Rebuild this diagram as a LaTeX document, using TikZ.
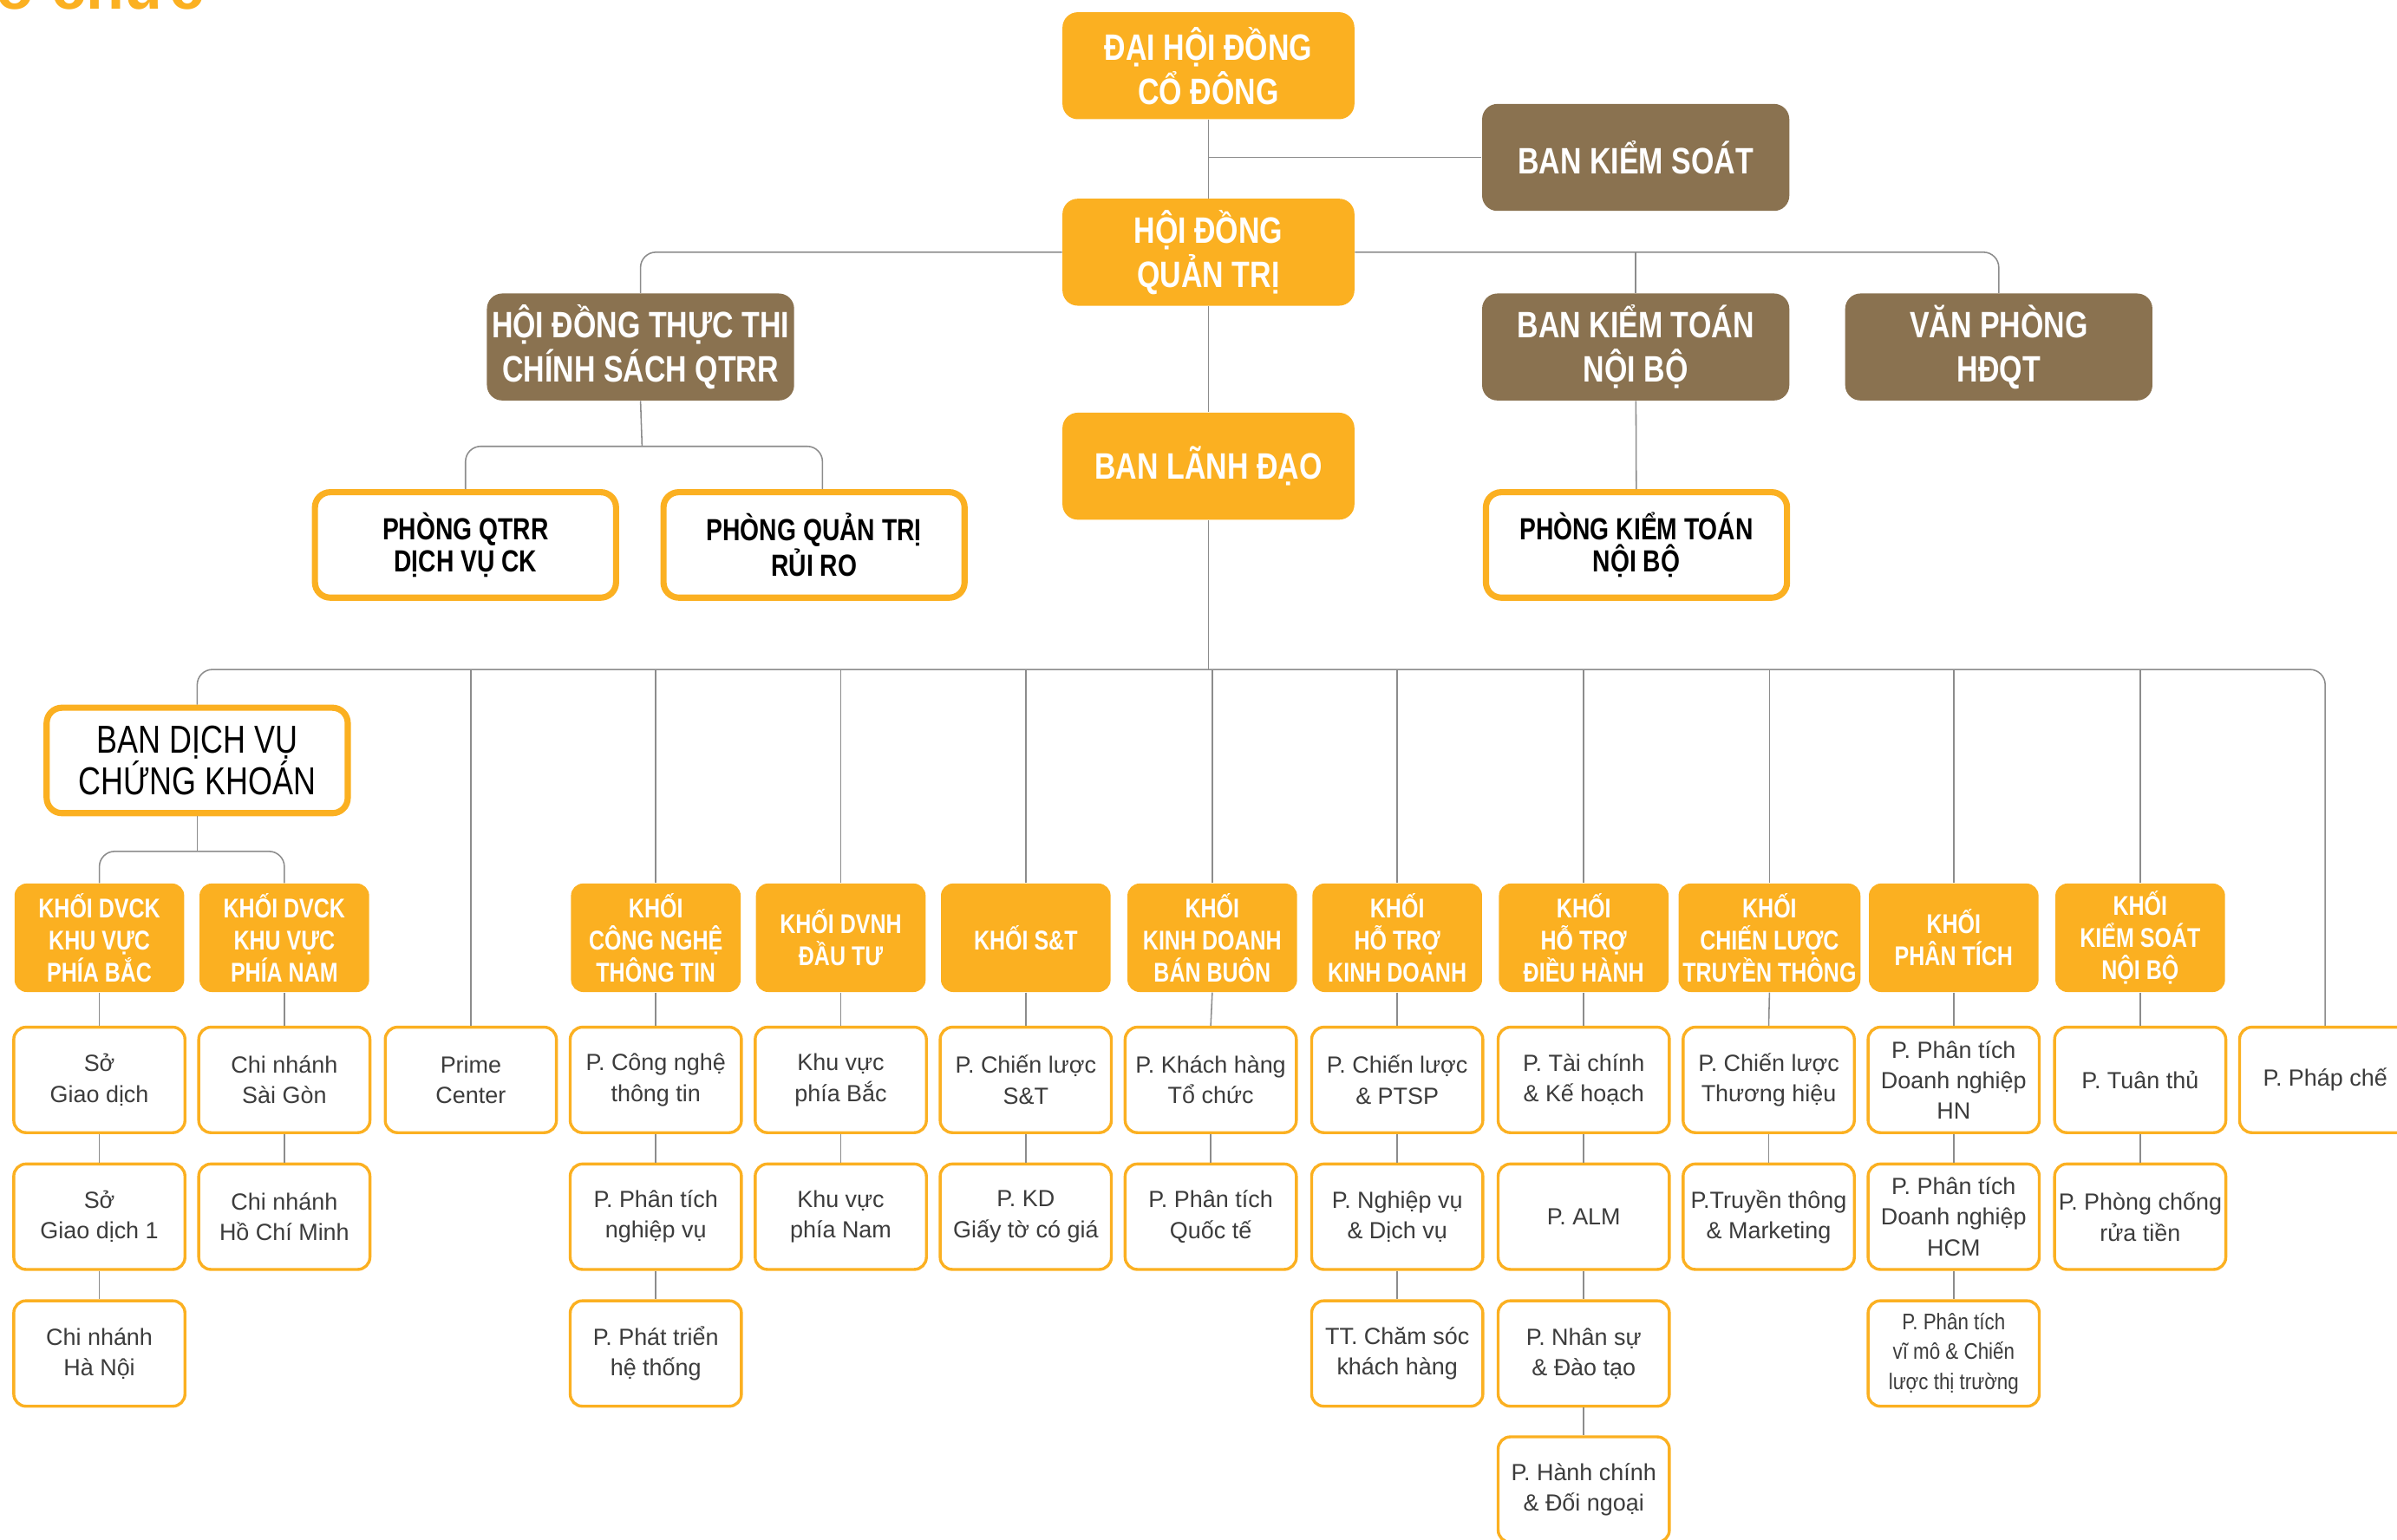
\documentclass[tikz,border=0pt]{standalone}
\usepackage{fontspec}
\setmainfont{Liberation Sans}
\newfontfamily\headfont[FakeStretch=0.8]{Liberation Sans}
\newfontfamily\narrowfont[FakeStretch=0.86]{Liberation Sans}
\usepackage{tikz}
\definecolor{orgOrange}{RGB}{251, 176, 33}
\definecolor{orgBrown}{RGB}{138, 114, 80}
\definecolor{orgLine}{RGB}{140, 140, 140}
\definecolor{orgText}{RGB}{60, 60, 60}

\begin{document}
\begin{tikzpicture}[x=0.02cm, y=-0.02cm,
  link/.style={draw=orgLine, line width=0.5pt},
  topbox/.style={fill=orgOrange, rounded corners=0.2cm, minimum width=3.82cm, minimum height=1.4cm,
    text=white, align=center, inner sep=1pt, font=\headfont\bfseries\fontsize{13.7}{16.5}\selectfont},
  brownbox/.style={topbox, fill=orgBrown, minimum width=4.02cm},
  ringbox/.style={draw=orgOrange, line width=2.3pt, fill=white, rounded corners=0.2cm,
    minimum width=3.94cm, minimum height=1.38cm, align=center, text=black, inner sep=1pt,
    font=\headfont\bfseries\fontsize{11.4}{12}\selectfont},
  khoibox/.style={fill=orgOrange, rounded corners=0.16cm, minimum width=2.22cm, minimum height=1.42cm,
    text=white, align=center, inner sep=1pt, font=\headfont\bfseries\fontsize{10.1}{12}\selectfont},
  leafbox/.style={draw=orgOrange, line width=1.1pt, fill=white, rounded corners=0.16cm,
    minimum width=2.24cm, minimum height=1.38cm, align=center, text=orgText, inner sep=1pt,
    font=\fontsize{8.7}{11.4}\selectfont}]
\useasboundingbox (0,0) rectangle (1568,1007);

% Title, cut off by the top edge
\node[anchor=base east, inner sep=0, text=orgOrange, font=\bfseries\fontsize{23.2}{24}\selectfont] (title) at (134,6) {tổ chức};

% Boards
\node[topbox] (dhdcd) at (790.5,43) {ĐẠI HỘI ĐỒNG\\CỔ ĐÔNG};
\node[brownbox] (bks) at (1070,103) {BAN KIỂM SOÁT};
\node[topbox] (hdqt) at (790.5,165) {HỘI ĐỒNG\\QUẢN TRỊ};
\node[brownbox] (hdtt) at (419,227) {HỘI ĐỒNG THỰC THI\\CHÍNH SÁCH QTRR};
\node[brownbox] (bktnb) at (1070,227) {BAN KIỂM TOÁN\\NỘI BỘ};
\node[brownbox] (vphdqt) at (1307.5,227) {VĂN PHÒNG\\HĐQT};
\node[topbox] (bld) at (790.5,305) {BAN LÃNH ĐẠO};

% Departments under the boards
\node[ringbox] (pqtdv) at (304.5,356.5) {PHÒNG QTRR\\DỊCH VỤ CK};
\node[ringbox] (pqtrr) at (532.5,356.5) {PHÒNG QUẢN TRỊ\\RỦI RO};
\node[ringbox] (pktnb) at (1070.5,356.5) {PHÒNG KIỂM TOÁN\\NỘI BỘ};
\node[ringbox, font=\headfont\fontsize{14.5}{14.5}\selectfont] (bdvck) at (129,497.5) {BAN DỊCH VỤ\\CHỨNG KHOÁN};

\coordinate (qj) at (420,292);
\coordinate (bus) at (790.5,438);
\coordinate (dj) at (126,557);

% Blocks
\foreach \x/\n/\t in {65/k1/{KHỐI DVCK\\KHU VỰC\\PHÍA BẮC}, 186/k2/{KHỐI DVCK\\KHU VỰC\\PHÍA NAM},
    429/k4/{KHỐI\\CÔNG NGHỆ\\THÔNG TIN}, 550/k5/{KHỐI DVNH\\ĐẦU TƯ}, 671/k6/{KHỐI S\&T},
    793/k7/{KHỐI\\KINH DOANH\\BÁN BUÔN}, 914/k8/{KHỐI\\HỖ TRỢ\\KINH DOANH},
    1036/k9/{KHỐI\\HỖ TRỢ\\ĐIỀU HÀNH}, 1278/k11/{KHỐI\\PHÂN TÍCH}, 1400/k12/{KHỐI\\KIỂM SOÁT\\NỘI BỘ}}
  \node[khoibox] (\n) at (\x,613.5) {\t};
\node[khoibox, minimum width=2.38cm] (k10) at (1157.5,613.5) {KHỐI\\CHIẾN LƯỢC\\TRUYỀN THÔNG};

% Units
\foreach \x/\y/\n/\t in {65/706.5/l1a/{Sở\\Giao dịch}, 65/796/l1b/{Sở\\Giao dịch 1}, 65/885.5/l1c/{Chi nhánh\\Hà Nội},
    186/706.5/l2a/{Chi nhánh\\Sài Gòn}, 186/796/l2b/{Chi nhánh\\Hồ Chí Minh},
    308/706.5/l3a/{Prime\\Center},
    429/706.5/l4a/{P. Công nghệ\\thông tin}, 429/796/l4b/{P. Phân tích\\nghiệp vụ}, 429/885.5/l4c/{P. Phát triển\\hệ thống},
    550/706.5/l5a/{Khu vực\\phía Bắc}, 550/796/l5b/{Khu vực\\phía Nam},
    671/706.5/l6a/{P. Chiến lược\\S\&T}, 671/796/l6b/{P. KD\\Giấy tờ có giá},
    792/706.5/l7a/{P. Khách hàng\\Tổ chức}, 792/796/l7b/{P. Phân tích\\Quốc tế},
    914/706.5/l8a/{P. Chiến lược\\\& PTSP}, 914/796/l8b/{P. Nghiệp vụ\\\& Dịch vụ}, 914/885.5/l8c/{TT. Chăm sóc\\khách hàng},
    1036/706.5/l9a/{P. Tài chính\\\& Kế hoạch}, 1036/796/l9b/{P. ALM}, 1036/885.5/l9c/{P. Nhân sự\\\& Đào tạo},
    1036/974.5/l9d/{P. Hành chính\\\& Đối ngoại},
    1157/706.5/l10a/{P. Chiến lược\\Thương hiệu}, 1157/796/l10b/{P.Truyền thông\\\& Marketing},
    1278/706.5/l11a/{P. Phân tích\\Doanh nghiệp\\HN}, 1278/796/l11b/{P. Phân tích\\Doanh nghiệp\\HCM},
    1400/706.5/l12a/{P. Tuân thủ}, 1400/796/l12b/{P. Phòng chống\\rửa tiền},
    1521/706.5/l13a/{P. Pháp chế}}
  \node[leafbox] (\n) at (\x,\y) {\t};
\node[leafbox, font=\narrowfont\fontsize{8.4}{11.1}\selectfont] (l11c) at (1278,885.5) {P. Phân tích\\vĩ mô \& Chiến\\lược thị trường};

% Connectors
\draw[link] (dhdcd) -- (hdqt);
\draw[link] (bks.west) -- (bks.west -| dhdcd.south);
\draw[link, rounded corners=0.2cm] (hdqt.west) -| (hdtt.north);
\draw[link, rounded corners=0.2cm] (hdqt.east) -| (vphdqt.north);
\draw[link] (bktnb.north) -- (bktnb.north |- hdqt.east);
\draw[link] (hdqt) -- (bld);
\draw[link] (hdtt.south) -- (qj);
\draw[link, rounded corners=0.2cm] (pqtdv.north) |- (qj) -| ([xshift=0.11cm]pqtrr.north);
\draw[link] (bktnb) -- (pktnb);
\draw[link] (bld.south) -- (bus);
\draw[link, rounded corners=0.2cm] (bdvck.north) |- (bus) -| (l13a.north);
\foreach \n in {l3a, k4, k5, k6, k7, k8, k9, k10, k11, k12}
  \draw[link] (\n.north) -- (\n.north |- bus);
\draw[link] (bdvck.south) -- (bdvck.south |- dj);
\draw[link, rounded corners=0.2cm] (k1.north) |- (dj) -| (k2.north);
\foreach \a/\b in {k1/l1a, l1a/l1b, l1b/l1c, k2/l2a, l2a/l2b, k4/l4a, l4a/l4b, l4b/l4c, k5/l5a, l5a/l5b,
    k6/l6a, l6a/l6b, k7/l7a, l7a/l7b, k8/l8a, l8a/l8b, l8b/l8c, k9/l9a, l9a/l9b, l9b/l9c, l9c/l9d,
    k10/l10a, l10a/l10b, k11/l11a, l11a/l11b, l11b/l11c, k12/l12a, l12a/l12b}
  \draw[link] (\a.south) -- (\b.north);
\end{tikzpicture}
\end{document}
